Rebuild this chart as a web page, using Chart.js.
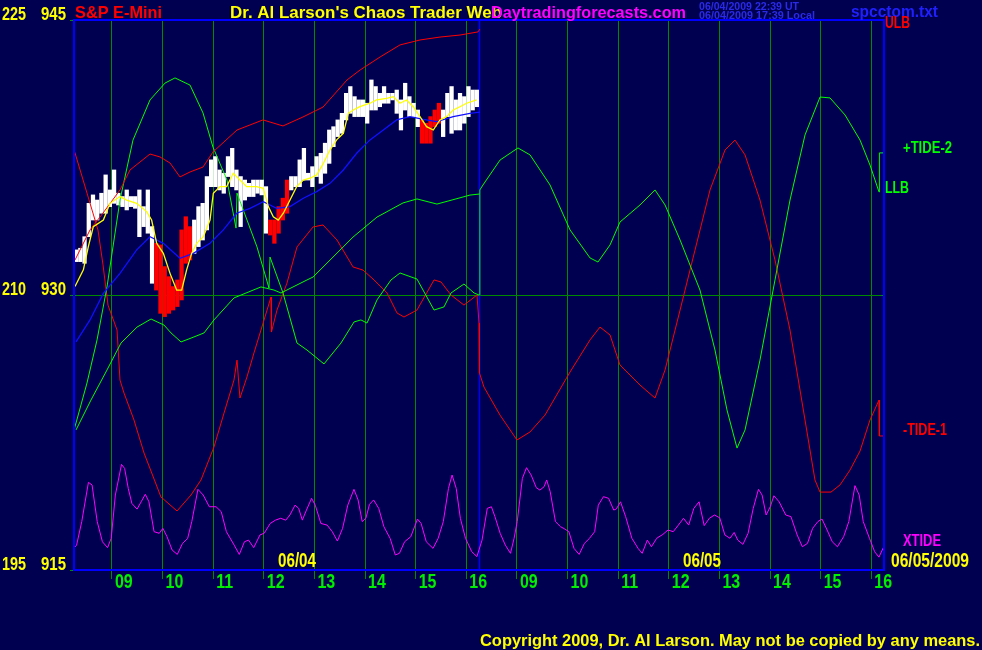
<!DOCTYPE html>
<html><head><meta charset="utf-8">
<script src="https://cdn.jsdelivr.net/npm/chart.js@4.4.0/dist/chart.umd.min.js"></script>
<style>html,body{margin:0;padding:0;background:#000050;overflow:hidden}canvas{display:block}</style>
</head><body>
<canvas id="c" width="982" height="650"></canvas>
<script>
// x = minutes of trading since 08:15 on 06/04 (06/05 session starts at 480)
const hourTicks = [45,105,165,225,285,345,405,465,525,585,645,705,765,825,885,945];
const hourLabels = ['09','10','11','12','13','14','15','16','09','10','11','12','13','14','15','16'];
const dayMid = [240,720];
const dayLabels = ['06/04','06/05'];
const nowMinute = 480;
const priceTicks = [945,930,915];
const altTicks = [225,210,195];

// 5-minute price bars, 06/04
const barHigh = [932.46,932.55,933.18,935.0,935.46,935.18,935.55,936.55,935.73,936.82,
935.55,935.37,935.73,935.37,935.37,935.73,934.82,935.73,933.73,932.82,
932.73,931.55,931.0,930.46,930.82,933.55,934.27,933.73,934.09,934.82,
935.0,936.46,937.37,937.55,936.82,936.64,937.55,938.0,936.82,936.46,
936.27,936.09,936.27,936.27,936.27,935.91,934.09,934.09,934.82,935.28,
936.27,936.46,936.46,937.37,938.0,936.64,937.0,937.55,937.73,938.28,
939.0,939.18,939.55,939.91,941.0,941.37,940.82,940.64,940.64,940.46,
941.73,941.37,941.0,941.37,941.0,941.0,941.18,940.64,941.55,940.82,
940.46,940.09,939.55,939.37,939.73,940.09,940.46,940.09,941.0,941.37,
940.64,941.0,940.82,941.37,941.18,941.18];
const barLow = [931.82,931.82,931.73,933.18,934.09,934.09,934.46,934.46,934.82,935.0,
934.91,934.82,934.64,934.82,934.73,933.18,933.73,933.37,930.64,930.27,
929.0,928.82,929.0,929.18,929.37,929.73,931.73,931.91,932.27,932.64,
933.0,933.55,935.91,935.91,935.73,935.55,936.46,935.91,935.73,933.73,
935.18,935.37,935.37,935.55,935.46,933.37,933.27,932.82,933.37,934.09,
934.46,935.73,935.91,935.91,936.27,936.27,935.91,936.46,936.09,936.64,
937.18,938.09,938.64,938.82,939.55,939.91,939.73,939.73,939.73,939.37,
940.09,940.09,940.27,940.46,940.46,940.64,939.91,939.0,940.09,939.73,
939.73,939.18,938.28,938.28,938.28,939.18,939.37,938.64,939.73,938.82,
939.0,939.0,939.37,939.73,940.09,940.27];
const barRed = [0,0,0,0,0,0,0,0,0,0, 0,0,0,0,0,0,0,0,0,1, 1,1,1,1,1,1,1,1,0,0,
0,0,0,0,0,0,0,0,0,0, 0,0,0,0,0,0,1,1,1,1, 1,0,0,0,0,0,0,0,0,0,
0,0,0,0,0,0,0,0,0,0, 0,0,0,0,0,0,0,0,0,0, 0,0,1,1,1,1,1,0,0,0, 0,0,0,0,0,0];

const fastAvg = [[1.2,930.46],[11.1,931.37],[17.0,932.64],[22.9,933.73],[34.8,934.09],[42.7,935.0],[54.5,935.37],[62.4,935.18],[74.3,935.0],[86.1,934.55],[92.0,934.09],[98.0,932.82],[105.9,932.27],[113.8,931.18],[121.7,930.27],[127.6,930.27],[133.5,931.37],[139.4,932.27],[145.4,932.82],[153.3,933.18],[161.2,934.09],[165.1,935.55],[173.0,935.91],[180.9,935.91],[188.8,936.64],[196.7,936.27],[204.6,935.91],[216.5,935.91],[224.4,935.82],[230.3,934.82],[236.2,934.27],[242.1,934.09],[248.1,934.46],[256.0,935.18],[263.9,935.91],[271.8,936.27],[279.7,936.37],[287.6,936.55],[295.5,937.18],[303.4,937.91],[311.3,938.46],[319.2,938.82],[325.1,939.91],[331.0,940.09],[338.9,940.27],[350.8,940.46],[358.7,940.64],[370.5,940.73],[378.4,940.82],[386.3,940.46],[394.2,940.64],[402.1,940.27],[410.0,939.73],[417.9,939.18],[425.8,939.0],[433.7,939.55],[441.6,939.73],[449.5,940.09],[457.4,940.27],[465.3,940.46],[477.2,940.64]];
const slowAvg = [[2.4,927.44],[19.0,928.64],[34.8,930.09],[54.5,931.18],[74.3,932.46],[90.1,933.18],[105.9,932.82],[125.6,932.0],[141.4,932.27],[161.2,932.82],[177.0,933.55],[192.8,934.46],[208.6,934.73],[224.4,935.09],[240.2,934.73],[256.0,934.82],[271.8,935.28],[287.6,935.64],[303.4,936.09],[319.2,936.82],[335.0,937.73],[350.8,938.46],[366.6,939.0],[382.4,939.55],[398.2,939.73],[414.0,939.58],[429.8,939.46],[449.5,939.73],[469.3,939.91],[481.1,939.97]];
const ulb = [[1.2,931.91],[19.0,933.55],[34.4,934.47],[54.5,935.73],[66.4,936.82],[90.1,937.69],[101.9,937.53],[113.8,937.2],[125.6,936.44],[137.5,936.71],[152.9,936.98],[164.7,937.8],[193.2,939.0],[224.0,939.55],[247.7,939.22],[271.4,939.71],[295.1,940.25],[323.6,941.73],[339.0,942.27],[362.7,942.98],[386.4,943.64],[410.1,943.91],[433.8,944.07],[457.5,944.18],[478.8,944.35],[481.0,944.5]];
const llb = [[2.4,922.64],[20.1,924.27],[39.1,925.91],[55.7,927.38],[74.7,928.25],[91.3,928.69],[106.7,928.36],[115.0,927.93],[126.8,927.44],[138.7,927.65],[154.1,927.93],[165.9,928.64],[189.6,929.84],[221.6,930.44],[237.0,930.27],[245.3,930.11],[276.1,930.82],[283.3,930.98],[330.7,933.16],[359.1,934.25],[389.9,935.02],[406.5,935.24],[430.2,934.96],[469.3,935.45],[481.0,935.51]];
const tide2 = [[0,922.64],[2.4,923.02],[15.4,925.2],[27.3,927.55],[39.1,930.44],[54.5,935.18],[69.9,938.45],[90.1,940.64],[107.9,941.56],[119.7,941.84],[137.5,941.45],[152.9,939.93],[164.7,938.07],[181.3,936.27],[192.0,933.65],[193.2,935.56],[216.9,932.62],[231.1,930.38],[232.3,932.07],[247.7,930.11],[264.3,927.38],[276.1,927.0],[296.3,926.24],[316.4,927.38],[331.9,928.53],[340.1,928.64],[347.3,928.47],[359.1,929.73],[375.7,930.82],[386.4,931.2],[406.5,930.87],[426.7,929.18],[438.5,929.35],[446.8,930.11],[462.2,930.6],[474.1,930.11],[480.0,930.0],[481.0,935.73],[484.7,936.0],[504.9,937.36],[526.2,938.02],[540.5,937.64],[564.2,936.0],[587.9,933.55],[611.6,932.02],[621.0,931.8],[635.3,932.73],[647.1,933.98],[670.8,934.91],[688.6,935.73],[700.5,934.91],[718.3,933.0],[741.9,930.27],[759.7,927.0],[773.9,923.73],[785.8,921.65],[795.3,922.64],[813.0,926.45],[830.8,930.82],[848.6,935.18],[866.4,938.73],[884.2,940.8],[896.0,940.75],[913.8,939.82],[931.6,938.45],[943.4,937.09],[954.1,935.62],[954.5,937.75],[960,937.75]];
const tide1 = [[0,937.91],[1.2,937.75],[15.4,935.56],[28.4,933.55],[34.4,931.64],[40.3,929.45],[51.0,928.09],[54.5,925.36],[59.3,924.65],[71.1,923.18],[83.0,921.38],[103.1,918.98],[122.1,918.22],[138.7,919.09],[150.5,919.91],[165.9,921.71],[177.8,923.56],[189.6,925.36],[193.2,926.45],[196.7,924.38],[205.0,925.53],[213.3,926.84],[221.6,928.09],[233.5,929.89],[234.0,927.98],[240.6,929.18],[252.4,930.65],[264.3,932.62],[283.3,933.71],[295.1,933.82],[311.7,933.0],[330.7,931.53],[342.5,931.36],[355.6,930.82],[371.0,930.11],[382.8,929.02],[391.1,928.8],[406.5,929.18],[426.7,930.82],[435.0,930.71],[446.8,930.0],[462.2,929.45],[477.6,930.0],[480.0,928.47],[480.5,925.75],[485.9,924.98],[504.9,923.45],[525.0,922.09],[540.5,922.53],[558.2,923.45],[587.9,925.8],[611.6,927.55],[623.4,928.25],[635.3,927.82],[647.1,926.18],[670.8,925.09],[688.6,924.38],[700.5,925.91],[718.3,929.18],[736.0,932.45],[753.8,935.73],[771.6,937.91],[783.4,938.45],[795.3,937.64],[813.0,935.18],[830.8,931.91],[848.6,928.09],[866.4,923.18],[878.2,919.91],[884.2,919.25],[897.2,919.25],[907.9,919.64],[919.7,920.45],[931.6,921.49],[943.4,923.18],[954.1,924.27],[954.5,922.31],[960,922.31]];
const xtide = [[0,916.2],[3.1,916.36],[9.2,917.64],[17.1,919.78],[21.4,919.64],[27.5,917.64],[33.7,916.54],[39.8,916.22],[44.1,916.73],[49.0,919.09],[56.3,920.76],[60.0,920.54],[64.3,919.45],[68.6,918.63],[74.7,918.32],[79.6,918.72],[84.5,919.13],[88.8,918.72],[94.9,917.09],[101.0,917.0],[105.3,917.27],[110.2,916.82],[116.3,916.09],[122.4,915.85],[128.6,916.45],[134.7,916.72],[139.6,917.64],[146.9,919.4],[153.1,919.09],[160.4,918.45],[168.4,918.45],[174.5,918.18],[180.6,917.09],[189.8,916.36],[195.9,915.85],[202.0,916.54],[206.9,916.63],[213.0,916.22],[220.4,916.91],[225.3,917.0],[232.6,917.54],[238.8,917.72],[244.9,917.82],[251.0,917.72],[255.9,918.0],[262.0,918.54],[266.3,918.36],[270.6,917.72],[275.5,918.27],[281.6,918.91],[285.9,918.54],[292.6,917.54],[300.0,917.45],[306.1,917.09],[312.2,916.58],[318.3,917.27],[324.5,918.54],[331.8,919.4],[336.7,918.82],[341.6,917.64],[345.9,917.82],[350.2,918.58],[355.1,918.82],[361.2,918.36],[367.3,917.36],[374.7,916.72],[380.8,915.82],[385.7,915.91],[391.8,916.54],[399.2,916.82],[407.1,917.78],[411.4,917.54],[417.5,916.54],[425.5,916.18],[431.6,916.73],[437.7,917.64],[443.8,919.45],[448.1,920.18],[453.0,919.45],[457.9,917.82],[464.0,916.73],[471.4,916.0],[477.5,915.73],[483.6,916.63],[489.8,918.36],[494.7,918.45],[498.9,917.91],[505.1,917.0],[511.2,916.36],[517.3,915.91],[521.6,916.73],[525.3,917.64],[531.4,920.0],[536.3,920.58],[541.8,920.18],[547.9,919.49],[552.2,919.36],[557.1,919.54],[560.2,919.91],[564.4,919.27],[570.6,917.64],[576.7,917.36],[581.6,917.24],[586.5,917.09],[592.6,916.18],[598.7,915.85],[604.9,916.45],[611.0,916.73],[617.1,917.09],[621.4,918.54],[627.5,919.0],[633.6,918.91],[639.7,918.27],[642.8,918.33],[647.7,918.72],[653.8,917.91],[661.2,916.73],[668.5,916.18],[673.4,915.91],[679.5,916.63],[684.4,916.27],[690.6,916.73],[697.9,916.94],[704.0,917.18],[710.2,917.09],[716.3,917.45],[722.4,917.82],[728.5,917.45],[734.6,918.36],[740.8,918.72],[746.9,917.42],[753.0,917.82],[759.1,918.0],[765.3,917.85],[771.4,916.91],[777.5,916.73],[782.4,917.05],[786.7,916.63],[792.8,916.4],[798.9,917.0],[805.0,918.36],[811.2,919.4],[815.5,919.09],[820.3,918.0],[825.2,918.45],[829.5,919.05],[835.7,918.72],[843.6,918.0],[849.7,917.91],[857.1,916.91],[863.2,916.27],[869.3,916.45],[875.4,917.27],[881.6,917.64],[886.5,917.78],[892.6,917.18],[898.7,916.54],[904.8,916.27],[912.2,916.82],[918.3,917.64],[925.6,919.6],[930.6,919.09],[935.4,917.64],[942.8,916.73],[948.9,916.0],[954.0,915.7],[960.0,916.3]];

const barTimes = barHigh.map((_, i) => i * 5 + 2.5);
const pts = arr => arr.map(p => ({x: p[0], y: p[1]}));
const last = arr => arr[arr.length - 1][1];

const YEL = '#ffff00', RED = '#ff0000', GRN = '#00ff00', MAG = '#ff00ff';
const FONT = '"Liberation Sans", Arial, sans-serif';

function txt(ctx, s, x, y, size, color, width, sx) {
  ctx.save();
  ctx.font = 'bold ' + size + 'px ' + FONT;
  ctx.fillStyle = color;
  ctx.textBaseline = 'alphabetic';
  ctx.textAlign = 'left';
  const w = ctx.measureText(s).width;
  const k = width ? width / w : (sx || 1);
  ctx.translate(x, y);
  ctx.scale(k, 1);
  ctx.fillText(s, 0, 0);
  ctx.restore();
}

const overlay = {
  id: 'overlay',
  beforeDraw(c) {
    const ctx = c.ctx; ctx.save(); ctx.fillStyle = '#000050'; ctx.fillRect(0, 0, c.width, c.height); ctx.restore();
  },
  beforeDatasetsDraw(c) {
    const ctx = c.ctx, a = c.chartArea, px = Math.round(c.scales.x.getPixelForValue(nowMinute)) + 0.5;
    ctx.save(); ctx.strokeStyle = '#0000ff'; ctx.lineWidth = 1.5;
    ctx.beginPath(); ctx.moveTo(px, a.top); ctx.lineTo(px, a.bottom); ctx.stroke(); ctx.restore();
  },
  afterDraw(c) {
    const ctx = c.ctx, a = c.chartArea, xs = c.scales.x, ys = c.scales.y;
    ctx.save(); ctx.strokeStyle = '#0000ff'; ctx.lineWidth = 2;
    ctx.strokeRect(a.left, a.top, a.right - a.left, a.bottom - a.top); ctx.restore();
    // left axis labels
    priceTicks.forEach((v, i) => {
      const y = ys.getPixelForValue(v);
      txt(ctx, String(altTicks[i]), 2, y, 18, YEL, 24);
      txt(ctx, String(v), 41, y, 18, YEL, 25);
    });
    // hour labels
    hourTicks.forEach((t, i) => txt(ctx, hourLabels[i], xs.getPixelForValue(t) + 3, 588, 20, '#00ee00', 0, 0.8));
    dayMid.forEach((t, i) => txt(ctx, dayLabels[i], xs.getPixelForValue(t) + 1.5, 567, 20, YEL, 38));
    txt(ctx, '06/05/2009', a.right + 7, 567, 20, YEL, 78);
    // header
    txt(ctx, 'S&P E-Mini', 75, 18, 17, RED, 87);
    txt(ctx, "Dr. Al Larson's Chaos Trader Web", 230, 18, 17, YEL, 272);
    txt(ctx, 'Daytradingforecasts.com', 491, 18, 17, MAG, 195);
    txt(ctx, '06/04/2009 22:39 UT', 699, 10, 11, '#2a2ae8', 100);
    txt(ctx, '06/04/2009 17:39 Local', 699, 19, 11, '#2a2ae8', 116);
    txt(ctx, 'spcctom.txt', 851, 17, 17, '#2020ff', 87);
    // right labels
    txt(ctx, 'ULB', a.right + 1, ys.getPixelForValue(last(ulb)) - 1, 16, RED, 25);
    txt(ctx, '+TIDE-2', a.right + 19, ys.getPixelForValue(last(tide2)), 16, GRN, 49);
    txt(ctx, 'LLB', a.right + 1, ys.getPixelForValue(last(llb)) - 1, 16, GRN, 24);
    txt(ctx, '-TIDE-1', a.right + 19, ys.getPixelForValue(last(tide1)) - 1, 16, RED, 44);
    txt(ctx, 'XTIDE', a.right + 19, ys.getPixelForValue(last(xtide)), 16, MAG, 38);
    txt(ctx, 'Copyright 2009, Dr. Al Larson. May not be copied by any means.', 480, 646, 17, YEL, 500);
  }
};

const line = (data, color, order, w) => ({ type: 'line', data: pts(data), borderColor: color, borderWidth: w || 1, pointRadius: 0, tension: 0, fill: false, order });

new Chart(document.getElementById('c'), {
  type: 'line',
  data: { datasets: [
    { type: 'bar', data: barLow.map((lo, i) => ({ x: barTimes[i], y: [lo, barHigh[i]] })),
      backgroundColor: barRed.map(r => r ? RED : '#ffffff'), barThickness: 3.6, borderWidth: 0, grouped: false, order: 20 },
    line(xtide, MAG, 9),
    line(tide1, RED, 8),
    line(tide2, GRN, 7),
    line(llb, GRN, 6),
    line(ulb, RED, 5),
    line(slowAvg, '#1010ff', 3, 1.3),
    line(fastAvg, YEL, 2, 1.3)
  ]},
  options: {
    responsive: false, animation: false, devicePixelRatio: 1,
    layout: { padding: { left: 70, right: 98, top: 20, bottom: 71 } },
    plugins: { legend: { display: false }, tooltip: { enabled: false } },
    scales: {
      x: { type: 'linear', min: 0, max: 960, offset: false,
        afterBuildTicks: s => { s.ticks = hourTicks.map(v => ({ value: v })); },
        afterFit: s => { s.height = 9; },
        grid: { color: '#008a00', lineWidth: 1, tickLength: 9, drawTicks: true, offset: false },
        border: { display: false }, ticks: { display: false } },
      y: { type: 'linear', min: 915, max: 945,
        afterBuildTicks: s => { s.ticks = priceTicks.map(v => ({ value: v })); },
        afterFit: s => { s.width = 4; },
        grid: { color: '#008a00', lineWidth: 1, tickLength: 4, drawTicks: true },
        border: { display: false }, ticks: { display: false } }
    }
  },
  plugins: [overlay]
});
</script>
</body></html>
